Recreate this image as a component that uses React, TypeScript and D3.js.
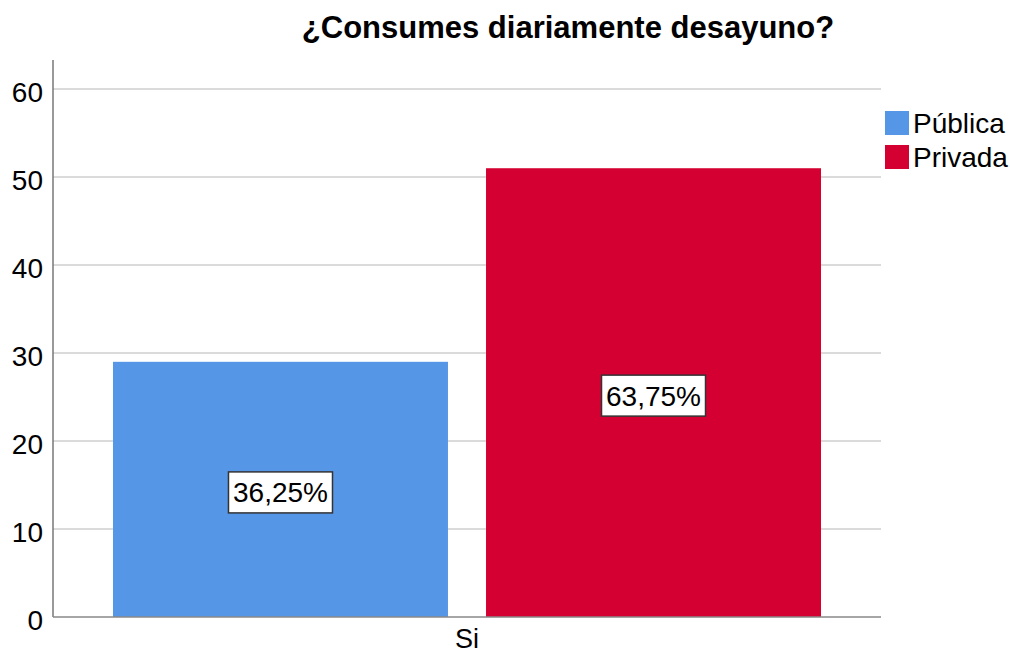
import React from "react";
import * as d3 from "d3";

const categories = ["Si"];
const seriesNames = ["Pública", "Privada"];
const seriesValues = [29, 51];
const percentLabels = ["36,25%", "63,75%"];
const colors = ["#5596E6", "#D50032"];
const yTicks = [0, 10, 20, 30, 40, 50, 60];

export default function App() {
  const W = 1010, H = 654;
  const left = 53, right = 881, top = 60, bottom = 617;
  const y = d3.scaleLinear().domain([0, 63.3]).range([bottom, top]);
  const x0 = d3.scaleBand().domain(categories).range([left, right]).paddingInner(0).paddingOuter(0);
  const x1 = d3.scaleBand().domain(seriesNames).range([60, x0.bandwidth() - 60]).paddingInner(0.102).paddingOuter(0);
  const font = "Arial, 'Liberation Sans', sans-serif";
  return (
    <svg width={W} height={H} style={{ position: "absolute", left: 0, top: 0 }} fontFamily={font}>
      <rect x={0} y={0} width={W} height={H} fill="#fff" />
      <text x={568} y={38} textAnchor="middle" fontSize={31} fontWeight="bold" fill="#000">¿Consumes diariamente desayuno?</text>
      {yTicks.map(t => (
        <g key={t}>
          {t > 0 && <line x1={left} x2={right} y1={y(t)} y2={y(t)} stroke="#cfcfcf" strokeWidth={1.5} />}
          <text x={43} y={y(t) + 13} textAnchor="end" fontSize={28} fill="#000">{t}</text>
        </g>
      ))}
      {categories.map(c => (
        <g key={c}>
          {seriesNames.map((s, i) => {
            const bx = (x0(c) as number) + (x1(s) as number);
            const bw = x1.bandwidth();
            const cy = y(seriesValues[i] / 2) + 3;
            const cx = bx + bw / 2;
            return (
              <g key={s}>
                <rect x={bx} y={y(seriesValues[i])} width={bw} height={bottom - y(seriesValues[i])} fill={colors[i]} />
                <rect x={cx - 52} y={cy - 20.5} width={104} height={41} fill="#fff" stroke="#333" strokeWidth={1.5} />
                <text x={cx} y={cy + 10} textAnchor="middle" fontSize={28} fill="#000">{percentLabels[i]}</text>
              </g>
            );
          })}
          <text x={(x0(c) as number) + x0.bandwidth() / 2} y={648} textAnchor="middle" fontSize={27} fill="#000">{c}</text>
        </g>
      ))}
      <line x1={left} x2={left} y1={top} y2={bottom} stroke="#777" strokeWidth={1.5} />
      <line x1={left} x2={right} y1={bottom} y2={bottom} stroke="#888" strokeWidth={1.5} />
      {seriesNames.map((s, i) => (
        <g key={s}>
          <rect x={885} y={111 + i * 34} width={24} height={24} fill={colors[i]} />
          <text x={913} y={133 + i * 34} fontSize={28} fill="#000">{s}</text>
        </g>
      ))}
    </svg>
  );
}
